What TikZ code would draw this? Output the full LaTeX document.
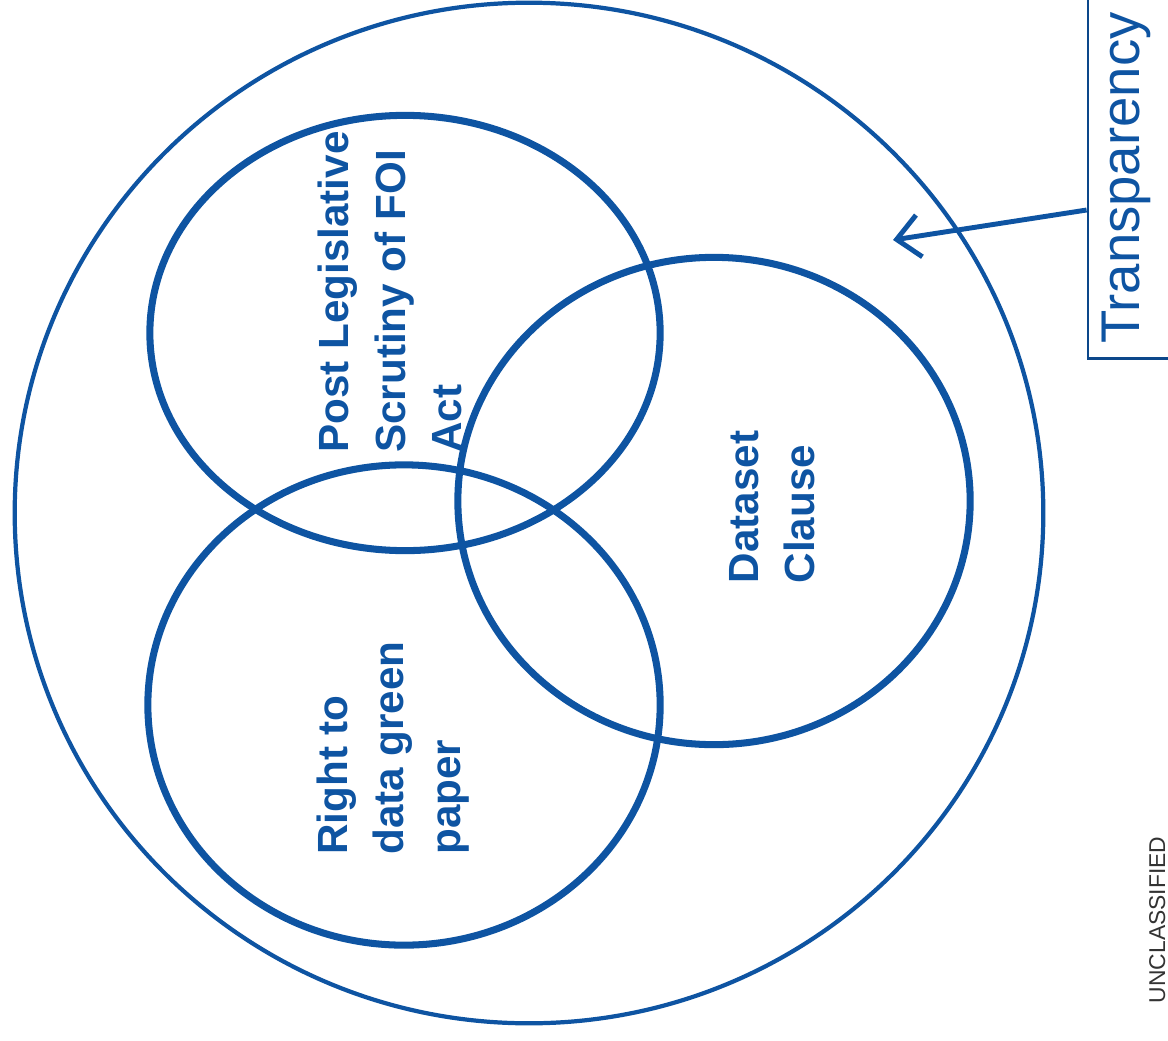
\documentclass[tikz,border=0pt]{standalone}
\usepackage{fontspec}
\setmainfont{Liberation Sans}
\usetikzlibrary{shapes.geometric,arrows.meta,positioning}
\definecolor{vennblue}{RGB}{14,84,162}
\tikzset{
set/.style = {draw=vennblue, ellipse, line width=2pt, inner sep=0pt},
setlabel/.style = {text=vennblue, font=\fontsize{12}{16}\selectfont\bfseries, align=left, rotate=90, inner sep=0pt},
tbox/.style = {draw=vennblue!85!black, line width=0.8pt, rectangle, minimum width=0.92cm, minimum height=3.8cm}
}

\begin{document}
\begin{tikzpicture}[x=0.01cm, y=-0.01cm, >={Straight Barb[length=6.5pt,width=12pt]}]
    \useasboundingbox (0,0) rectangle (1168,1040);

    % the sets
    \node [set, line width=1.2pt, minimum width=10.28cm, minimum height=10.2cm] (transp) at (529,513) {};
    \node [set, minimum width=5.1cm, minimum height=4.35cm] (pls) at (405,333) {};
    \node [set, minimum width=5.12cm, minimum height=4.8cm] (rtd) at (404,705) {};
    \node [set, minimum width=5.12cm, minimum height=4.87cm] (dsc) at (714,501) {};

    \node [setlabel] (plslabel) at (390,292) {Post Legislative\\Scrutiny of FOI\\Act};
    \node [setlabel] (rtdlabel) at (393,748) {Right to\\data green\\paper};
    \node [setlabel] (dsclabel) at (772,507) {Dataset\\Clause};

    % label box for the outer set
    \node [tbox] (tbox) at (1134,168) {};
    \node [rotate=90, text=vennblue, font=\fontsize{15.5}{18}\selectfont] (tlabel) at (1126,178) {Transparency};
    \coordinate (tip) at (893,240);
    \draw [->, vennblue, line width=1.4pt] ([yshift=-0.42cm]tbox.west) -- (tip);

    \node [rotate=90, anchor=south, inner sep=0pt, text=black!80, font=\fontsize{6.5}{8}\selectfont] (mark) at (1166,920) {UNCLASSIFIED};
\end{tikzpicture}
\end{document}
